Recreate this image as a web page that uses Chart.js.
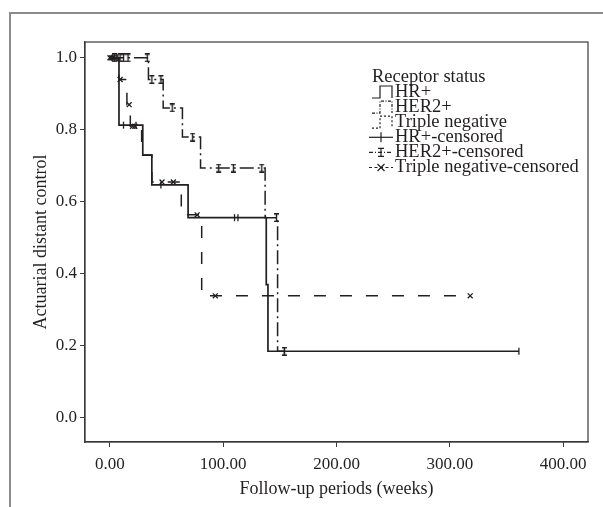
<!DOCTYPE html>
<html>
<head>
<meta charset="utf-8">
<title>Actuarial distant control by receptor status</title>
<script src="https://cdn.jsdelivr.net/npm/chart.js@4"></script>
<style>
    html, body { margin: 0; padding: 0; background: #fff; overflow: hidden; }
    #wrap { position: relative; width: 603px; height: 507px; }
    #frame {
        position: absolute; left: 9px; top: 12px; width: 620px; height: 520px;
        border-top: 2px solid #8c8c8c; border-left: 2px solid #8c8c8c;
    }
    #km { position: absolute; left: 0; top: 0; }
</style>
</head>
<body>
<div id="wrap">
    <div id="frame"></div>
    <canvas id="km" width="603" height="507"></canvas>
</div>
<script>
// ─── Data (weeks, survival proportion) ──────────────────────────────────────
const hrWeeks   = [0, 8, 29, 37, 69, 138, 139.5, 361];
const hrSurv    = [1.0, 0.813, 0.73, 0.647, 0.556, 0.37, 0.185, 0.185];
const her2Weeks = [0, 34, 47, 64, 80, 137, 148, 154];
const her2Surv  = [1.0, 0.94, 0.861, 0.78, 0.694, 0.556, 0.185, 0.185];
const tnWeeks   = [0, 8, 15, 18, 28, 37, 63, 81, 318];
const tnSurv    = [1.0, 0.94, 0.87, 0.81, 0.73, 0.655, 0.564, 0.339, 0.339];

const hrCensWeeks   = [2, 4, 6, 7, 12, 23, 45, 110, 113, 154, 361];
const hrCensSurv    = [1, 1, 1, 1, 0.813, 0.813, 0.647, 0.556, 0.556, 0.185, 0.185];
const her2CensWeeks = [4, 9, 12, 16, 33, 37, 45, 55, 73, 96, 109, 134, 147, 154];
const her2CensSurv  = [1, 1, 1, 1, 1, 0.94, 0.94, 0.861, 0.78, 0.694, 0.694, 0.694, 0.556, 0.185];
const tnCensWeeks   = [0, 1, 2, 3, 9, 17, 20, 22, 46, 56, 77, 93, 318];
const tnCensSurv    = [1, 1, 1, 1, 0.94, 0.87, 0.81, 0.81, 0.655, 0.655, 0.564, 0.339, 0.339];

const xTicks = [0, 100, 200, 300, 400];
const yTicks = [0.0, 0.2, 0.4, 0.6, 0.8, 1.0];

const legendTitle  = 'Receptor status';
const legendLabels = ['HR+', 'HER2+', 'Triple negative', 'HR+-censored', 'HER2+-censored', 'Triple negative-censored'];

const xTitle = 'Follow-up periods (weeks)';
const yTitle = 'Actuarial distant control';

// ─── Styling ────────────────────────────────────────────────────────────────
const ink = '#231f20';
const serif = "'Liberation Serif', 'DejaVu Serif', serif";
const dashHer2 = [14, 4, 2, 4];
const dashTn = [12, 14];

const zip = (xs, ys) => xs.map((x, i) => ({ x, y: ys[i] }));

// small "I" glyph used for HER2+ censored cases
const makeIMarker = () => {
    const c = document.createElement('canvas');
    c.width = 7; c.height = 9;
    const g = c.getContext('2d');
    g.strokeStyle = ink;
    g.lineWidth = 1.4;
    g.beginPath();
    g.moveTo(3.5, 0.5); g.lineTo(3.5, 8.5);
    g.moveTo(1, 0.8);   g.lineTo(6, 0.8);
    g.moveTo(1, 8.2);   g.lineTo(6, 8.2);
    g.stroke();
    return c;
};
const iMarker = makeIMarker();

// ─── Plot box (all four sides) ──────────────────────────────────────────────
const boxPlugin = {
    id: 'plotBox',
    afterDatasetsDraw(chart) {
        const { ctx, chartArea: a } = chart;
        ctx.save();
        ctx.strokeStyle = '#3a3a3a';
        ctx.lineWidth = 1.2;
        ctx.strokeRect(a.left, a.top, a.right - a.left, a.bottom - a.top);
        ctx.restore();
    }
};

// ─── Legend drawn inside the plot, SPSS style ───────────────────────────────
const legendPlugin = {
    id: 'receptorLegend',
    afterDraw(chart) {
        const ctx = chart.ctx;
        const x0 = 372, textX = 395, top = 92, step = 15.1;
        ctx.save();
        ctx.font = '18.5px ' + serif;
        ctx.fillStyle = ink;
        ctx.textBaseline = 'middle';
        ctx.fillText(legendTitle, x0, 77);

        legendLabels.forEach((label, i) => {
            const y = top + i * step;
            ctx.strokeStyle = ink;
            ctx.lineWidth = 1.2;
            if (i < 3) {
                // step glyph: _|‾|
                const dash = i === 0 ? [] : i === 1 ? [3, 1.5, 1, 1.5] : [2, 2];
                ctx.setLineDash(dash);
                ctx.beginPath();
                ctx.moveTo(x0, y + 6);
                ctx.lineTo(x0 + 8, y + 6);
                ctx.lineTo(x0 + 8, y - 6);
                ctx.lineTo(x0 + 20, y - 6);
                ctx.lineTo(x0 + 20, y + 6);
                ctx.stroke();
            } else {
                const dash = i === 3 ? [] : i === 4 ? [4, 2, 1, 2] : [3, 2.5];
                ctx.setLineDash(dash);
                ctx.beginPath();
                ctx.moveTo(x0 - 3, y);
                ctx.lineTo(x0 + 21, y);
                ctx.stroke();
                ctx.setLineDash([]);
                const cx = x0 + 9;
                ctx.beginPath();
                if (i === 3) {
                    ctx.moveTo(cx, y - 5); ctx.lineTo(cx, y + 5);
                } else if (i === 4) {
                    ctx.moveTo(cx, y - 4); ctx.lineTo(cx, y + 4);
                    ctx.moveTo(cx - 3, y - 4); ctx.lineTo(cx + 3, y - 4);
                    ctx.moveTo(cx - 3, y + 4); ctx.lineTo(cx + 3, y + 4);
                } else {
                    ctx.moveTo(cx - 3.5, y - 3.5); ctx.lineTo(cx + 3.5, y + 3.5);
                    ctx.moveTo(cx + 3.5, y - 3.5); ctx.lineTo(cx - 3.5, y + 3.5);
                }
                ctx.stroke();
            }
            ctx.setLineDash([]);
            ctx.fillText(label, textX, y);
        });
        ctx.restore();
    }
};

const stepLine = (label, xs, ys, dash, width) => ({
    label,
    data: zip(xs, ys),
    showLine: true,
    stepped: 'before',
    borderColor: ink,
    borderWidth: width,
    borderDash: dash,
    pointRadius: 0,
    pointHoverRadius: 0,
    fill: false
});

const censored = (label, xs, ys, style, rotation) => ({
    label,
    data: zip(xs, ys),
    showLine: false,
    pointStyle: style,
    rotation,
    pointRadius: 3.5,
    pointBorderWidth: 1.3,
    borderColor: ink,
    backgroundColor: ink
});

new Chart(document.getElementById('km'), {
    type: 'scatter',
    data: {
        datasets: [
            stepLine('HR+', hrWeeks, hrSurv, [], 1.7),
            stepLine('HER2+', her2Weeks, her2Surv, dashHer2, 1.5),
            stepLine('Triple negative', tnWeeks, tnSurv, dashTn, 1.5),
            censored('HR+-censored', hrCensWeeks, hrCensSurv, 'line', 90),
            censored('HER2+-censored', her2CensWeeks, her2CensSurv, iMarker, 0),
            censored('Triple negative-censored', tnCensWeeks, tnCensSurv, 'crossRot', 0)
        ]
    },
    options: {
        responsive: false,
        animation: false,
        events: [],
        layout: { padding: { left: 0, top: 42, right: 15, bottom: 0 } },
        plugins: {
            legend: { display: false },
            tooltip: { enabled: false }
        },
        scales: {
            x: {
                type: 'linear',
                min: -22,
                max: 422,
                afterBuildTicks: (s) => { s.ticks = xTicks.map(v => ({ value: v })); },
                afterFit: (s) => { s.height = 65; },
                grid: { drawOnChartArea: false, drawTicks: true, tickLength: 5, color: '#3a3a3a' },
                border: { display: true, color: '#3a3a3a', width: 1.2 },
                ticks: {
                    color: ink, padding: 7, maxRotation: 0,
                    font: { family: serif, size: 17 },
                    callback: (v) => Number(v).toFixed(2)
                },
                title: {
                    display: true, text: xTitle, color: ink,
                    font: { family: serif, size: 18 },
                    padding: { top: 0, bottom: 7 }
                }
            },
            y: {
                type: 'linear',
                min: -0.067,
                max: 1.044,
                afterBuildTicks: (s) => { s.ticks = yTicks.map(v => ({ value: v })); },
                afterFit: (s) => { s.width = 85; },
                grid: { drawOnChartArea: false, drawTicks: true, tickLength: 5, color: '#3a3a3a' },
                border: { display: true, color: '#3a3a3a', width: 1.2 },
                ticks: {
                    color: ink, padding: 3,
                    font: { family: serif, size: 17 },
                    callback: (v) => Number(v).toFixed(1)
                },
                title: {
                    display: true, text: yTitle, color: ink,
                    font: { family: serif, size: 18 },
                    padding: { top: 30, bottom: 0 }
                }
            }
        }
    },
    plugins: [boxPlugin, legendPlugin]
});
</script>
</body>
</html>
